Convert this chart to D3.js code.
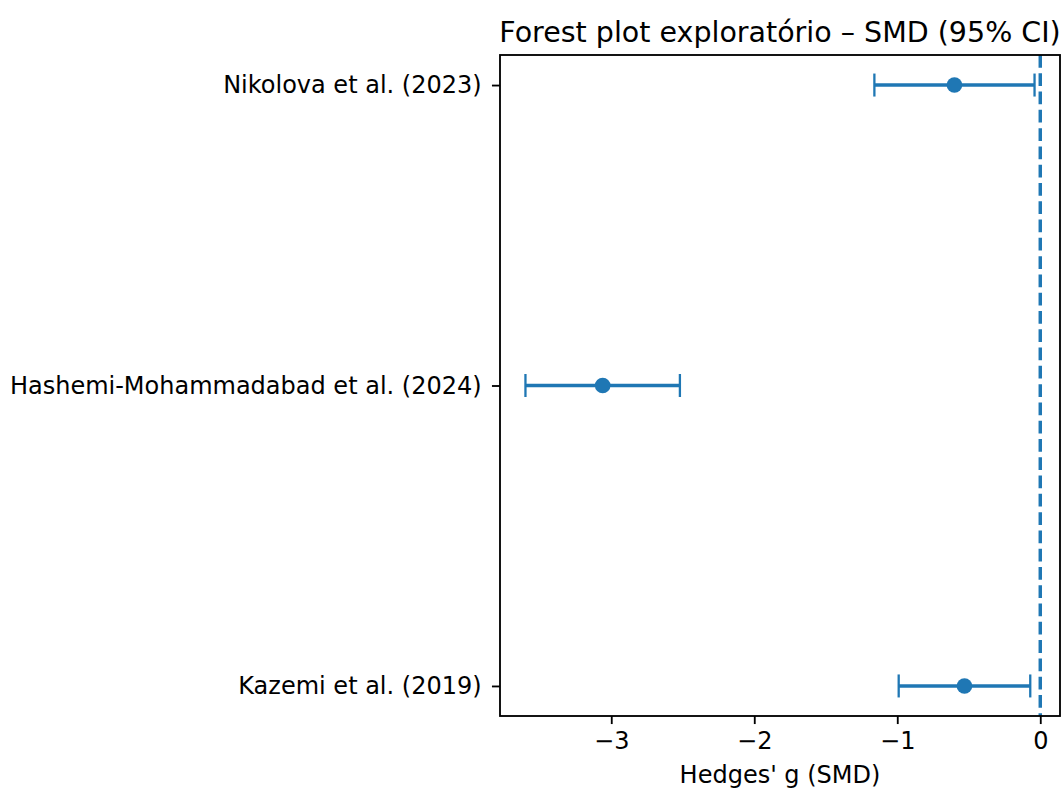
<!DOCTYPE html>
<html>
<head>
<meta charset="utf-8">
<script src="https://cdn.jsdelivr.net/npm/d3@7"></script>
<style>
  body { margin: 0; background: #fff; }
  text { font-family: "DejaVu Sans", sans-serif; fill: #000; }
</style>
</head>
<body>
<svg width="1062" height="789"></svg>
<script>
// studies, top to bottom
var studies = ["Nikolova et al. (2023)", "Hashemi-Mohammadabad et al. (2024)", "Kazemi et al. (2019)"];
var smd = [-0.60, -3.06, -0.53];
var ciLow = [-1.16, -3.60, -0.99];
var ciHigh = [-0.04, -2.52, -0.07];
var xTicks = [-3, -2, -1, 0];

var blue = "#1f77b4";
var pt = 2.3; // px per point
var fs = 24;

var svg = d3.select("svg");
var margin = { top: 55, left: 500, right: 2, bottom: 73 };
var W = +svg.attr("width"), H = +svg.attr("height");

// data limits with 5% padding like matplotlib
var lo = d3.min(ciLow), hi = d3.max(ciHigh);
var pad = (hi - lo) * 0.05;
var x = d3.scaleLinear()
  .domain([lo - pad, hi + pad])
  .range([margin.left, W - margin.right]);

var n = studies.length;
var y = d3.scaleLinear()
  .domain([-0.1 * (n - 1) / 2, (n - 1) + 0.1 * (n - 1) / 2])
  .range([margin.top, H - margin.bottom]);

var g = svg.append("g");

// reference line at 0
g.append("line")
  .attr("x1", x(0)).attr("x2", x(0))
  .attr("y1", margin.top).attr("y2", H - margin.bottom)
  .attr("stroke", blue)
  .attr("stroke-width", 1.5 * pt)
  .attr("stroke-dasharray", (3.7 * 1.5 * pt) + "," + (1.6 * 1.5 * pt));

var rows = g.selectAll("g.row")
  .data(studies)
  .enter()
  .append("g")
  .attr("class", "row");

rows.append("line")
  .attr("x1", (d, i) => x(ciLow[i]))
  .attr("x2", (d, i) => x(ciHigh[i]))
  .attr("y1", (d, i) => y(i))
  .attr("y2", (d, i) => y(i))
  .attr("stroke", blue)
  .attr("stroke-width", 1.5 * pt);

// caps
var capH = 5 * pt;
[ciLow, ciHigh].forEach(function (arr) {
  rows.append("line")
    .attr("x1", (d, i) => x(arr[i]))
    .attr("x2", (d, i) => x(arr[i]))
    .attr("y1", (d, i) => y(i) - capH)
    .attr("y2", (d, i) => y(i) + capH)
    .attr("stroke", blue)
    .attr("stroke-width", 1 * pt);
});

rows.append("circle")
  .attr("cx", (d, i) => x(smd[i]))
  .attr("cy", (d, i) => y(i))
  .attr("r", 3.4 * pt)
  .attr("fill", blue);

// axes
var xAxis = d3.axisBottom(x)
  .tickValues(xTicks)
  .tickFormat(d => d < 0 ? "\u2212" + Math.abs(d) : d)
  .tickSize(3.5 * pt)
  .tickPadding(3.5 * pt);

var gx = svg.append("g")
  .attr("transform", "translate(0," + (H - margin.bottom) + ")")
  .call(xAxis);
gx.select(".domain").remove();
gx.selectAll("line").attr("stroke", "#000").attr("stroke-width", 0.8 * pt);
gx.selectAll("text").attr("font-size", fs).attr("fill", "#000")
  .attr("font-family", "DejaVu Sans");

var yAxis = d3.axisLeft(y)
  .tickValues(d3.range(n))
  .tickFormat(i => studies[i])
  .tickSize(3.5 * pt)
  .tickPadding(4.5 * pt);

var gy = svg.append("g")
  .attr("transform", "translate(" + margin.left + ",0)")
  .call(yAxis);
gy.select(".domain").remove();
gy.selectAll("line").attr("stroke", "#000").attr("stroke-width", 0.8 * pt);
gy.selectAll("text").attr("font-size", fs).attr("fill", "#000")
  .attr("font-family", "DejaVu Sans");

// frame
svg.append("rect")
  .attr("x", margin.left)
  .attr("y", margin.top)
  .attr("width", W - margin.right - margin.left)
  .attr("height", H - margin.bottom - margin.top)
  .attr("fill", "none")
  .attr("stroke", "#000")
  .attr("stroke-width", 0.8 * pt);

// title and label
svg.append("text")
  .attr("x", (margin.left + W - margin.right) / 2)
  .attr("y", 42)
  .attr("text-anchor", "middle")
  .attr("font-size", 28.5)
  .text("Forest plot exploratório – SMD (95% CI)");

svg.append("text")
  .attr("x", (margin.left + W - margin.right) / 2)
  .attr("y", 783)
  .attr("text-anchor", "middle")
  .attr("font-size", fs)
  .text("Hedges' g (SMD)");
</script>
</body>
</html>
